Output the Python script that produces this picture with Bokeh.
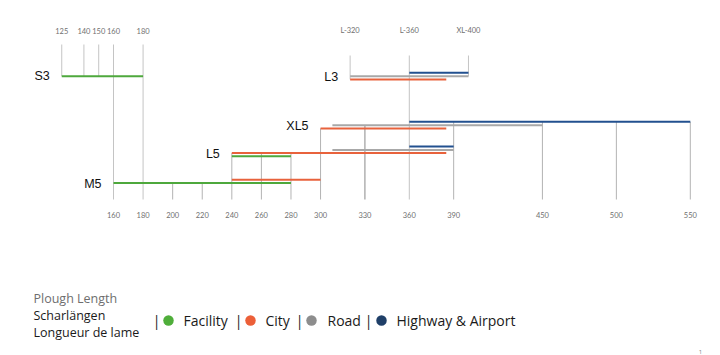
from bokeh.plotting import figure
from bokeh.models import Range1d, ColumnDataSource
from bokeh.core.properties import value
from bokeh.embed import file_html
from bokeh.resources import INLINE

# ---------------- data ----------------
models = ["S3", "L3", "XL5", "L5", "M5"]
series_names = ["Facility", "City", "Road", "Highway & Airport"]

facility_start = [125, None, None, 240, 160]
facility_end = [180, None, None, 280, 280]
city_start = [None, 320, 300, 240, 240]
city_end = [None, 385, 385, 385, 300]
road_start = [None, 320, 308, 308, None]
road_end = [None, 400, 450, 390, None]
highway_start = [None, 360, 360, 360, None]
highway_end = [None, 400, 550, 390, None]

bottom_ticks = [160, 180, 200, 220, 240, 260, 280, 300, 330, 360, 390, 450, 500, 550]
top_ticks_s3 = [125, 140, 150, 160, 180]
top_ticks_l3 = [320, 360, 400]
top_labels_l3 = ["L-320", "L-360", "XL-400"]
legend_title = ["Plough Length", "Scharlängen", "Longueur de lame"]

# ---------------- layout / style ----------------
W, H = 720, 355
K = 1.479                       # px per unit
X0 = 160 - 113 / K              # data value at left frame edge
X1 = X0 + W / K

def px2x(px):
    return X0 + px / K

line_colors = {"Facility": "#4ea83c", "City": "#e8623c", "Road": "#a8a8a8", "Highway & Airport": "#22508f"}
dot_colors = {"Facility": "#4fae3a", "City": "#ec5f38", "Road": "#8d8d8d", "Highway & Airport": "#1f3f68"}
row_y = {"S3": 65.9, "L3": 72.3, "XL5": 121.3, "L5": 146.0, "M5": 172.6}
series_off = {"Facility": 9.8, "City": 6.6, "Road": 3.5, "Highway & Airport": 0.0}
label_y = {"S3": 75.5, "L3": 76.0, "XL5": 125.0, "L5": 153.5, "M5": 183.0}
top_rows = {"S3": (top_ticks_s3, None, 44), "L3": (top_ticks_l3, top_labels_l3, 55)}
bottom_rows = ["XL5", "L5", "M5"]
base_y = 199
top_label_y = 30
bottom_label_y = 214.5

starts = {"Facility": facility_start, "City": city_start, "Road": road_start, "Highway & Airport": highway_start}
ends = {"Facility": facility_end, "City": city_end, "Road": road_end, "Highway & Airport": highway_end}

bars = []  # (model, series, x0, x1, y)
for i, m in enumerate(models):
    for s in series_names:
        a, b = starts[s][i], ends[s][i]
        if a is not None:
            bars.append((m, s, a, b, row_y[m] + series_off[s]))

p = figure(width=W, height=H, x_range=Range1d(X0, X1), y_range=Range1d(H, 0),
           output_backend="svg", toolbar_location=None, min_border=0,
           x_axis_type=None, y_axis_type=None, outline_line_color=None)
p.grid.visible = False
p.background_fill_color = "white"

# ---------- vertical tick lines ----------
vx, vy0, vy1, vc = [], [], [], []
for m, (ticks, labels, ytop) in top_rows.items():
    for v in ticks:
        if v in bottom_ticks:
            ybot = base_y
        else:
            ybot = max(b[4] for b in bars if b[0] == m and b[2] <= v <= b[3])
        vx.append(v); vy0.append(ytop); vy1.append(ybot); vc.append("#c4c4c4")
top_vals = set(top_ticks_s3) | set(top_ticks_l3)
for v in bottom_ticks:
    if v in top_vals:
        continue
    ytop = min(b[4] for b in bars if b[0] in bottom_rows and b[2] <= v <= b[3])
    vx.append(v); vy0.append(ytop); vy1.append(base_y)
    vc.append("#8a8a8a" if v == 330 else "#b3b3b3")
p.segment(x0=vx, y0=vy0, x1=vx, y1=vy1, line_color=vc, line_width=1)

# ---------- bars ----------
src = ColumnDataSource(dict(x0=[b[2] for b in bars], x1=[b[3] for b in bars],
                            y=[b[4] for b in bars],
                            c=[line_colors[b[1]] for b in bars]))
p.segment(x0="x0", y0="y", x1="x1", y1="y", line_color="c", line_width=2, source=src)

# ---------- tick labels ----------
tick_font = value("Lato")
p.text(x=bottom_ticks, y=[bottom_label_y] * len(bottom_ticks), text=[str(v) for v in bottom_ticks],
       text_font=tick_font, text_font_size="7.5px", text_color="#707070",
       text_align="center", text_baseline="middle")
p.text(x=top_ticks_s3, y=[top_label_y] * len(top_ticks_s3), text=[str(v) for v in top_ticks_s3],
       text_font=tick_font, text_font_size="7.5px", text_color="#707070",
       text_align="center", text_baseline="middle")
p.text(x=top_ticks_l3, y=[top_label_y] * len(top_ticks_l3), text=top_labels_l3,
       text_font=tick_font, text_font_size="7.5px", text_color="#707070",
       text_align="center", text_baseline="middle")

# ---------- model labels ----------
lx = [min(b[2] for b in bars if b[0] == m) for m in models]
p.text(x=lx, y=[label_y[m] for m in models], text=models, x_offset=-12,
       text_font=value("Liberation Sans"), text_font_size="12.5px", text_color="#111111",
       text_align="right", text_baseline="middle")

# ---------- legend ----------
p.text(x=[px2x(33)] * 3, y=[298, 315, 332], text=legend_title,
       text_font=value("Open Sans"), text_font_size="12.5px",
       text_color=["#6e6e6e", "#1a1a1a", "#1a1a1a"], text_align="left", text_baseline="middle")
sep_px = [156, 238, 299, 368]
dot_px = [168, 250, 311, 381]
txt_px = [183, 265, 327, 396]
p.text(x=[px2x(v) for v in sep_px], y=[320] * 4, text=["|"] * 4,
       text_font=value("Open Sans"), text_font_size="14px", text_color="#1a1a1a",
       text_align="center", text_baseline="middle")
p.scatter(x=[px2x(v) for v in dot_px], y=[320] * 4, size=10.5, marker="circle",
          fill_color=[dot_colors[s] for s in series_names], line_color=None)
p.text(x=[px2x(v) for v in txt_px], y=[320] * 4, text=series_names,
       text_font=value("Open Sans"), text_font_size="14px", text_color="#1a1a1a",
       text_align="left", text_baseline="middle")

p.text(x=[px2x(700)], y=[351], text=["1"], text_font=value("Open Sans"),
       text_font_size="6px", text_color="#888888", text_align="center", text_baseline="middle")

open("out.html", "w").write(file_html(p, INLINE))
